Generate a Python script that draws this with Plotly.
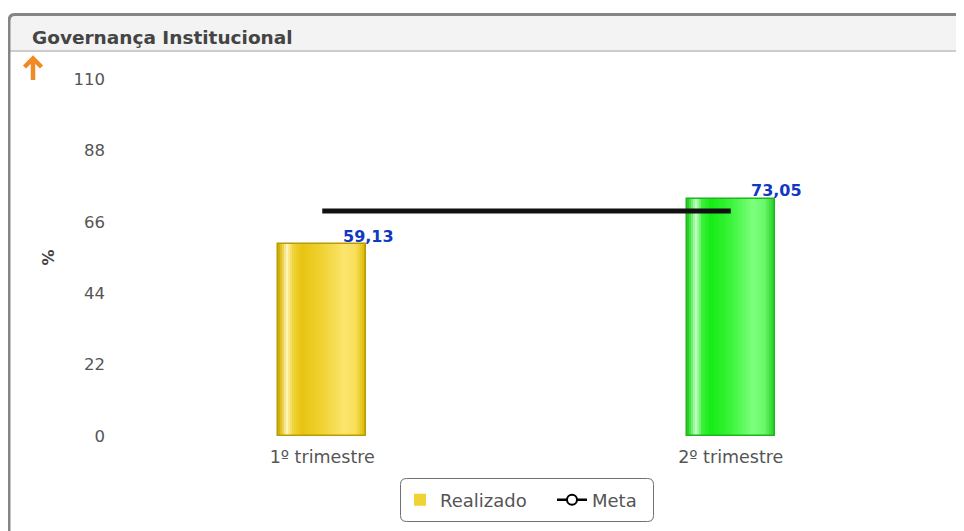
import plotly.graph_objects as go

# ---- data ----
categories = ["1º trimestre", "2º trimestre"]
realizado = [59.13, 73.05]
meta = [69.3, 69.3]
y_ticks = [0, 22, 44, 66, 88, 110]
title_text = "Governança Institucional"
y_title = "%"

# ---- layout constants (pixels, page shows figure offset by body margin) ----
OFF = 8
W_PX, H_PX = 964, 531
M_L, M_R, M_T, M_B = 118 - OFF, 29 + OFF, 79 - OFF, 95 + OFF
PW = W_PX - M_L - M_R
PH = H_PX - M_T - M_B


def px(x):
    return (x - OFF - M_L) / PW


def py(y):
    return (H_PX - M_B - (y - OFF)) / PH


def hex2rgb(h):
    h = h.lstrip('#')
    return tuple(int(h[i:i + 2], 16) for i in (0, 2, 4))


def grad(stops, t):
    for (t0, c0), (t1, c1) in zip(stops, stops[1:]):
        if t0 <= t <= t1:
            f = 0 if t1 == t0 else (t - t0) / (t1 - t0)
            a, b = hex2rgb(c0), hex2rgb(c1)
            return "rgb(%d,%d,%d)" % tuple(round(a[k] + (b[k] - a[k]) * f) for k in range(3))
    return stops[-1][1]


def rrect(x0, y0, x1, y1, r):
    return (f"M {px(x0 + r)} {py(y0)} L {px(x1 - r)} {py(y0)} Q {px(x1)} {py(y0)} {px(x1)} {py(y0 + r)} "
            f"L {px(x1)} {py(y1 - r)} Q {px(x1)} {py(y1)} {px(x1 - r)} {py(y1)} "
            f"L {px(x0 + r)} {py(y1)} Q {px(x0)} {py(y1)} {px(x0)} {py(y1 - r)} "
            f"L {px(x0)} {py(y0 + r)} Q {px(x0)} {py(y0)} {px(x0 + r)} {py(y0)} Z")


yellow = [(0.0, "#c9a800"), (0.04, "#e2c52a"), (0.10, "#fff4bc"), (0.17, "#f0d43a"),
          (0.27, "#e8c412"), (0.50, "#f0d232"), (0.75, "#fbe56c"), (0.88, "#f9df5c"),
          (0.95, "#e8c820"), (1.0, "#d2b000")]
green = [(0.0, "#22c022"), (0.04, "#48ec48"), (0.10, "#caffca"), (0.17, "#3ef03e"),
         (0.27, "#14ec14"), (0.50, "#3cf43c"), (0.75, "#7cff7c"), (0.88, "#6cf86c"),
         (0.95, "#3ee03e"), (1.0, "#2cc42c")]
palettes = [yellow, green]
border_cols = ["#b89c00", "#20b420"]

BW = 88 / (PW / 2)  # bar width in category units
N = 44

fig = go.Figure()

for i in range(N):
    t = (i + 0.5) / N
    w = BW / N
    fig.add_trace(go.Bar(
        x=categories, y=realizado,
        width=w * (1.6 if i < N - 1 else 1.0),
        offset=-BW / 2 + i * w,
        marker=dict(color=[grad(p, t) for p in palettes], line=dict(width=0)),
        showlegend=False, hoverinfo="skip",
    ))

# outline
fig.add_trace(go.Bar(
    x=categories, y=realizado, width=BW, offset=-BW / 2,
    marker=dict(color="rgba(0,0,0,0)", line=dict(color=border_cols, width=1.5)),
    showlegend=False, hoverinfo="skip",
))

# legend entry for Realizado
fig.add_trace(go.Bar(
    x=[categories[0]], y=[0], width=0.001,
    marker=dict(color="#f0d232", line=dict(width=0)),
    name="Realizado", showlegend=True, hoverinfo="skip", legend="legend",
))

# Meta line
fig.add_trace(go.Scatter(
    x=categories, y=meta, mode="lines",
    line=dict(color="#111111", width=5),
    showlegend=False, hoverinfo="skip",
))
fig.add_trace(go.Scatter(
    x=[None], y=[None], mode="lines+markers", name="Meta", legend="legend2",
    line=dict(color="#000000", width=2.5),
    marker=dict(symbol="circle", size=10, color="white", line=dict(color="#000000", width=2)),
))

annotations = []
for c, v in zip(categories, realizado):
    annotations.append(dict(
        x=c, y=v, xref="x", yref="y", text=f"{v:.2f}".replace(".", ","),
        showarrow=False, xshift=46, yshift=8, yanchor="middle",
        font=dict(family="DejaVu Sans", size=16, color="#1038c0", weight="bold"),
    ))

annotations.append(dict(
    x=px(30), y=py(38), xref="paper", yref="paper", text="<b>" + title_text + "</b>",
    showarrow=False, xanchor="left", yanchor="middle",
    font=dict(family="DejaVu Sans", size=18.5, color="#444444"),
))

shapes = [
    dict(type="rect", xref="paper", yref="paper", x0=px(10), x1=px(975), y0=py(16), y1=py(51),
         fillcolor="#f3f3f3", line=dict(width=0), layer="below"),
    dict(type="line", xref="paper", yref="paper", x0=px(10), x1=px(975), y0=py(51), y1=py(51),
         line=dict(color="#cccccc", width=2), layer="below"),
    dict(type="path", xref="paper", yref="paper",
         path=f"M {px(9)} {py(545)} L {px(9)} {py(21)} Q {px(9)} {py(14.5)} {px(15)} {py(14.5)} L {px(975)} {py(14.5)}",
         line=dict(color="#858585", width=3), layer="below"),
    # orange up-arrow icon
    dict(type="path", xref="paper", yref="paper",
         path=f"M {px(24.5)} {py(67)} L {px(33)} {py(58.5)} L {px(41.5)} {py(67)} "
              f"M {px(33)} {py(59)} L {px(33)} {py(80)}",
         line=dict(color="#f08a24", width=4.5), layer="above"),
    # legend box
    dict(type="path", xref="paper", yref="paper", path=rrect(400.5, 478.5, 653.5, 521.5, 6),
         line=dict(color="#707070", width=1), fillcolor="white", layer="below"),
]

legend_common = dict(orientation="h", yanchor="middle", y=py(500),
                     borderwidth=0, bgcolor="rgba(0,0,0,0)",
                     font=dict(family="DejaVu Sans", size=18, color="#555555"), itemwidth=30)

fig.update_layout(
    width=W_PX, height=H_PX,
    margin=dict(l=M_L, r=M_R, t=M_T, b=M_B, autoexpand=False),
    paper_bgcolor="white", plot_bgcolor="white",
    barmode="overlay", bargap=0,
    font=dict(family="DejaVu Sans", size=16, color="#555555"),
    xaxis=dict(type="category", range=[-0.5, 1.5], showgrid=False, zeroline=False,
               showline=False, ticks="", ticklabelstandoff=8,
               tickfont=dict(size=17.5, color="#555555"),
               fixedrange=True),
    yaxis=dict(range=[0, 110], tickvals=y_ticks, showgrid=False, zeroline=False,
               showline=False, ticks="", ticklabelstandoff=12,
               tickfont=dict(size=16.5, color="#555555"),
               title=dict(text="<b>" + y_title + "</b>", standoff=14,
                          font=dict(size=16, color="#444444")),
               fixedrange=True),
    legend=dict(x=px(400), xanchor="left", **legend_common),
    legend2=dict(x=px(552), xanchor="left", **legend_common),
    annotations=annotations, shapes=shapes,
    showlegend=True,
)

fig.write_html("out.html")
